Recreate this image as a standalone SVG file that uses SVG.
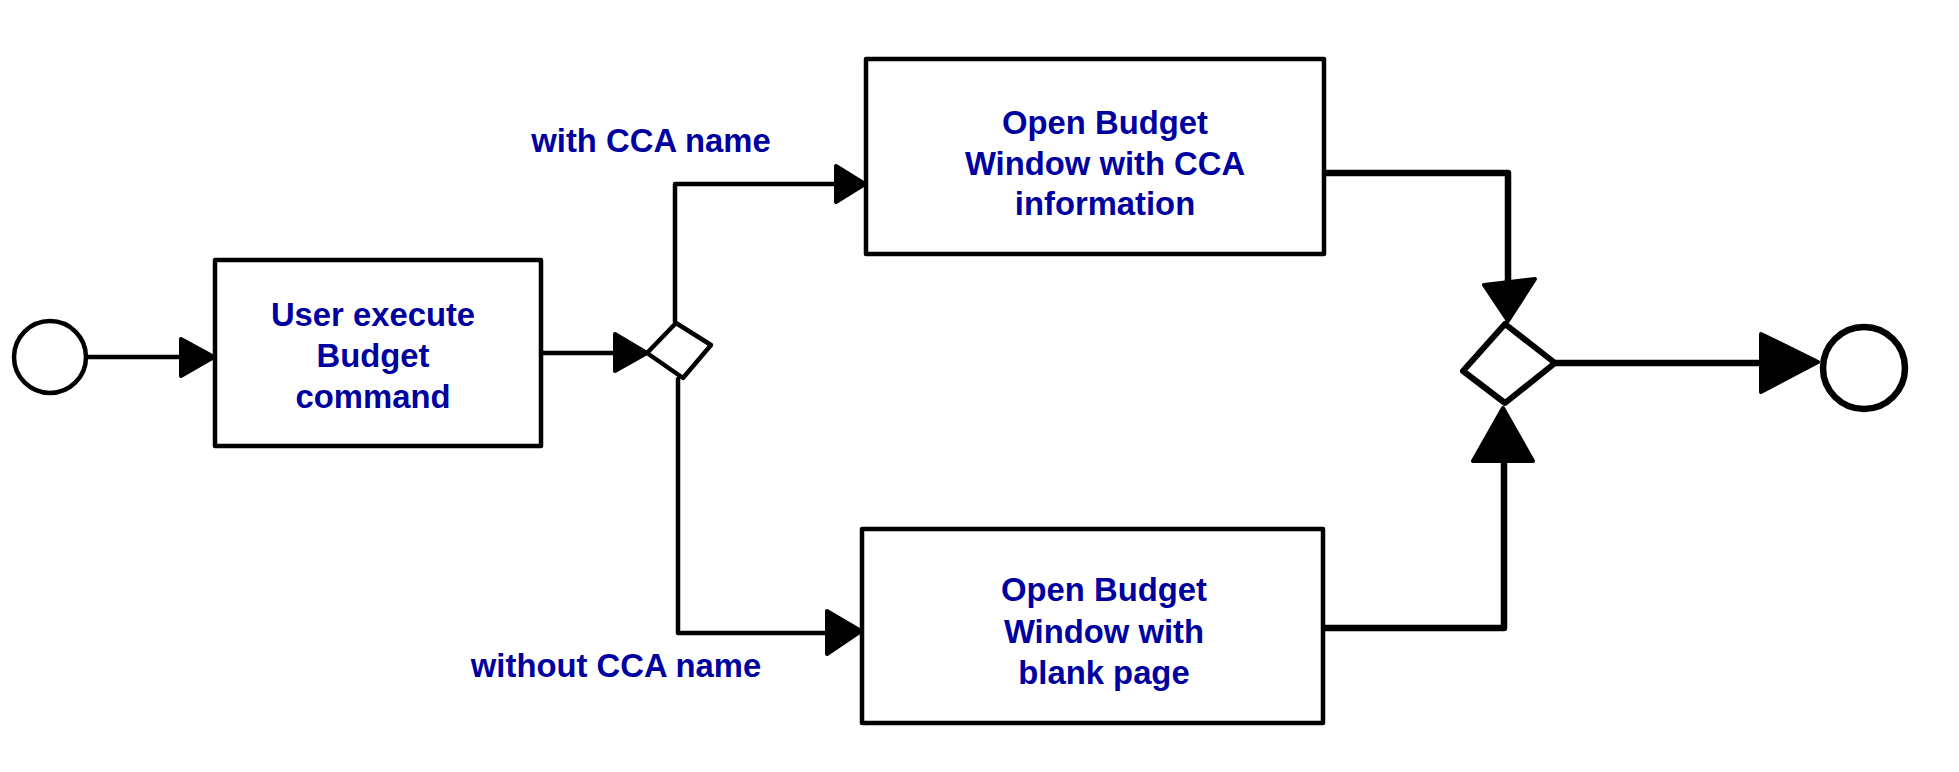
<svg xmlns="http://www.w3.org/2000/svg" width="1959" height="772" viewBox="0 0 1959 772">
<style>
.bg{fill:#fff}
.box{fill:#fff;stroke:#000;stroke-width:4.5;stroke-linejoin:round}
.ev{fill:#fff;stroke:#000}
.gw{fill:#fff;stroke:#000;stroke-linejoin:round}
.c{fill:none;stroke:#000;stroke-linejoin:round;stroke-linecap:round}
.thin{stroke-width:4.5}
.thick{stroke-width:6.5}
.ah{fill:#000;stroke:#000;stroke-width:4;stroke-linejoin:round}
.t{font-family:"Liberation Sans",Arial,Helvetica,sans-serif;font-weight:bold;font-size:32.8px;fill:#0000a0;text-anchor:middle}
</style>
<rect class="bg" x="0" y="0" width="1959" height="772"/>

<g id="connectors">
  <path class="c thin" d="M87,357 H184"/>
  <polygon class="ah" points="181,339 214,357 181,376"/>
  <path class="c thin" d="M541,353 H617"/>
  <polygon class="ah" points="615,334 647,353 615,371"/>
  <path class="c thin" d="M675,322 V184 H838"/>
  <polygon class="ah" points="836,166 865,184 836,202"/>
  <path class="c thin" d="M678,379 V633 H830"/>
  <polygon class="ah" points="827,611 861,631 827,654"/>
  <path class="c thick" d="M1324,173 H1508 V285"/>
  <polygon class="ah" points="1484,285 1535,279 1508,321"/>
  <path class="c thick" d="M1323,628 H1504 V460"/>
  <polygon class="ah" points="1473,461 1533,461 1503,408"/>
  <path class="c thick" d="M1555,363 H1764"/>
  <polygon class="ah" points="1761,334 1818,362 1761,392"/>
</g>

<g id="start">
  <circle class="ev" cx="50" cy="357" r="36" stroke-width="4.5"/>
</g>

<g id="task-user-execute">
  <rect class="box" x="215" y="260" width="326" height="186"/>
  <text class="t" x="373" y="326">User execute</text>
  <text class="t" x="373" y="367">Budget</text>
  <text class="t" x="373" y="408">command</text>
</g>

<g id="gateway-split">
  <polygon class="gw" stroke-width="4.5" points="647,353 676,323 711,345 683,378"/>
</g>

<g id="label-with">
  <text class="t" x="651" y="152">with CCA name</text>
</g>

<g id="label-without">
  <text class="t" x="616" y="677">without CCA name</text>
</g>

<g id="task-open-cca">
  <rect class="box" x="866" y="59" width="458" height="195"/>
  <text class="t" x="1105" y="134">Open Budget</text>
  <text class="t" x="1105" y="175">Window with CCA</text>
  <text class="t" x="1105" y="215">information</text>
</g>

<g id="task-open-blank">
  <rect class="box" x="862" y="529" width="461" height="194"/>
  <text class="t" x="1104" y="601">Open Budget</text>
  <text class="t" x="1104" y="643">Window with</text>
  <text class="t" x="1104" y="684">blank page</text>
</g>

<g id="gateway-merge">
  <polygon class="gw" stroke-width="6" points="1505,324 1555,363 1505,403 1463,371"/>
</g>

<g id="end">
  <circle class="ev" cx="1864" cy="368" r="41" stroke-width="6.5"/>
</g>
</svg>
